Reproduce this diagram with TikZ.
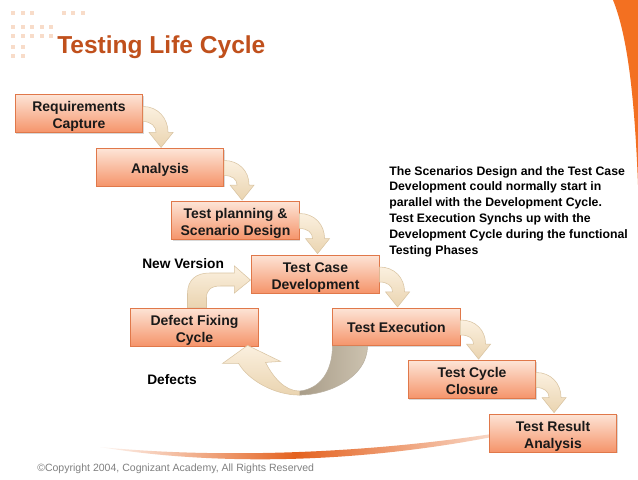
\documentclass[tikz,border=0pt]{standalone}
\usepackage{fontspec}
\setmainfont{Liberation Sans}
\usetikzlibrary{calc,shadows}

\definecolor{titre}{HTML}{C0501C}
\definecolor{boxline}{HTML}{E0784A}
\definecolor{boxtop}{HTML}{FDE4D6}
\definecolor{boxbot}{HTML}{F5946A}
\definecolor{creamtop}{HTML}{FBF0DF}
\definecolor{creambot}{HTML}{EAD4B0}
\definecolor{creamline}{HTML}{D9C4A2}
\definecolor{greyleft}{HTML}{A89C88}
\definecolor{greyright}{HTML}{CCC2AF}
\definecolor{dotcol}{HTML}{F8DCC9}
\definecolor{swoosh}{HTML}{E4621F}
\definecolor{corner}{HTML}{F37021}
\definecolor{copyg}{HTML}{808080}

\tikzset{
  phase/.style={rectangle, draw=boxline, line width=0.6pt,
    top color=boxtop, bottom color=boxbot,
    minimum width=95.5pt, minimum height=28pt, inner sep=1pt,
    align=center, text=black!90, text height=24.5pt, text depth=2pt,
    font=\fontsize{10.5}{12.75}\selectfont\bfseries,
    drop shadow={shadow xshift=0.8pt, shadow yshift=-0.8pt, opacity=0.3}},
  oneline/.style={text height=10.4pt},
  flowarrow/.style={draw=creamline, line width=0.4pt,
    top color=creamtop, bottom color=creambot},
  sidenote/.style={inner sep=0pt, font=\fontsize{10.3}{12}\selectfont\bfseries}
}

% waterfall arrow from box #1 down to box #2
\newcommand{\fallarrow}[2]{%
  \coordinate (tip) at ($(#1.east |- #2.north)+(18,-1)$);
  \path[flowarrow]
    ($(#1.east)+(0,-7)$) .. controls +(15,0) and +(0,-14) .. ($(tip)+(7,-15)$)
    -- ++(5,0) -- (tip) -- ($(tip)+(-12,-15)$) -- ++(7,0)
    .. controls +(0,-6) and +(8,0) .. ($(#1.east)+(0,8)$) -- cycle;
}

\begin{document}
\begin{tikzpicture}[x=0.75pt,y=-0.75pt]

\fill[white] (0,0) rectangle (638,479);

% Decor
\fill[corner] (613,0) .. controls (625,30) and (634,80) .. (638,185) -- (638,0) -- cycle;

\foreach \x/\y in {
13/13, 23/13, 32/13, 64/13, 73/13, 83/13,
13/27, 23/27, 32/27, 42/27, 51/27,
13/36, 23/36, 32/36, 42/36, 51/36,
13/47, 23/47,
13/56, 23/56
}
{
\fill[dotcol] (\x-2.2,\y-2.2) rectangle ++(4.4,4.4);
}

\path[left color=swoosh!5, right color=swoosh!25, middle color=swoosh]
(100,447) .. controls (190,462) and (330,468) .. (492,437)
-- (492,434) .. controls (330,458) and (190,456) .. (100,447) -- cycle;

% Title
\node[anchor=base west, inner sep=0pt, text=titre,
font=\fontsize{18.4}{22}\selectfont\bfseries] (title) at (57,53)
{Testing Life Cycle};

% Phases
\node[phase] (req) at (79,113.5) {Requirements\\Capture};
\node[phase, oneline] (ana) at (160,167.5) {Analysis};
\node[phase] (plan) at (235.5,220.5) {Test planning \&\\Scenario Design};
\node[phase] (tcd) at (315.5,274) {Test Case\\Development};
\node[phase] (defect) at (194.5,327) {Defect Fixing\\Cycle};
\node[phase, oneline] (exec) at (396.5,327) {Test Execution};
\node[phase] (closure) at (472,379.5) {Test Cycle\\Closure};
\node[phase] (result) at (553,433) {Test Result\\Analysis};

% Waterfall arrows
\fallarrow{req}{ana}
\fallarrow{ana}{plan}
\fallarrow{plan}{tcd}
\fallarrow{tcd}{exec}
\fallarrow{exec}{closure}
\fallarrow{closure}{result}

% New version arrow
\path[flowarrow]
($(defect.north)+(-7,0)$) -- ++(0,-14)
.. controls +(0,-14) and +(-13,0) .. ($(tcd.west)+(-42,-1)$)
-- ++(25,0) -- ++(0,-7) -- ($(tcd.west)+(-1,6)$) -- ++(-16,13) -- ++(0,-7)
-- ++(-14,0) .. controls +(-9,0) and +(0,-8) .. ($(defect.north)+(12,-10)$)
-- ($(defect.north)+(12,0)$) -- cycle;

% Defects loop
\coordinate (u0) at (exec.south west);
\path[draw=greyleft!80, line width=0.4pt, left color=greyleft, right color=greyright]
($(u0)+(-33,45)$) .. controls +(20,-2) and +(0,26) .. (u0)
-- ($(u0)+(35,0)$) .. controls +(0,32) and +(28,0) .. ($(u0)+(-33,49)$) -- cycle;
\path[flowarrow]
($(u0)+(-33,49)$) .. controls +(-25,0) and +(10,17) .. ($(defect.south east)+(-20,17)$)
-- ++(-16,0) -- ($(defect.south east)+(-11,-1)$) -- ($(defect.south east)+(22,15)$)
-- ($(defect.south east)+(7,16)$) .. controls +(7,14) and +(-15,0) .. ($(u0)+(-33,45)$)
-- cycle;

% Labels
\node[sidenote, anchor=base west] (newver) at (142,268.5) {New Version};
\node[sidenote, anchor=base west] (defects) at (147,384) {Defects};

\node[anchor=north west, inner sep=0pt, align=left,
font=\fontsize{9.2}{11.85}\selectfont\bfseries] (note) at (389,166)
{The Scenarios Design and the Test Case\\
Development could normally start in\\
parallel with the Development Cycle.\\
Test Execution Synchs up with the\\
Development Cycle during the functional\\
Testing Phases};

% Copyright
\node[anchor=base west, inner sep=0pt, text=copyg,
font=\fontsize{7.9}{9}\selectfont] (copy) at (37,471)
{\textcopyright Copyright 2004, Cognizant Academy, All Rights Reserved};

\end{tikzpicture}
\end{document}
